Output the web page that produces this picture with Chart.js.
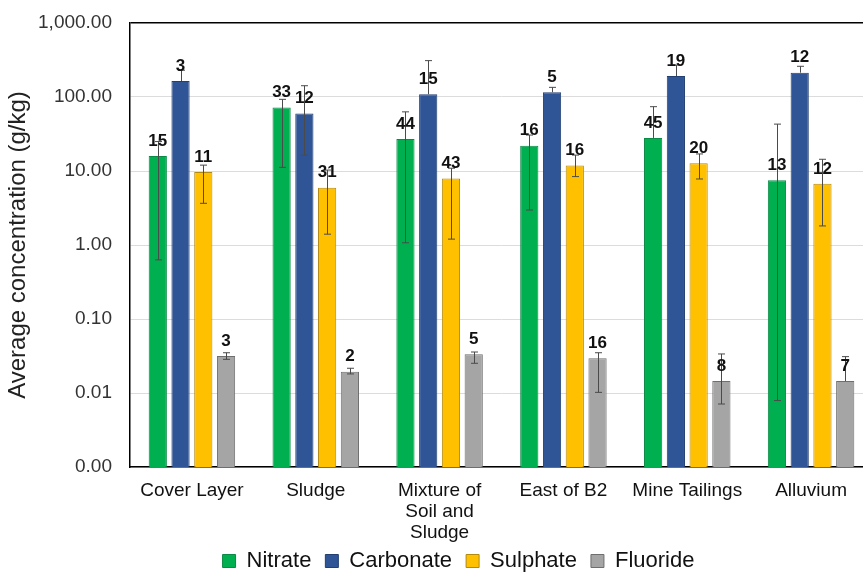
<!DOCTYPE html>
<html>
<head>
<meta charset="utf-8">
<script src="https://cdn.jsdelivr.net/npm/chart.js@4.4.1/dist/chart.umd.min.js"></script>
<style>
  html, body { margin: 0; padding: 0; background: #ffffff; overflow: hidden; }
  #wrap { width: 880px; height: 572px; }
</style>
</head>
<body>
<div id="wrap"><canvas id="chart" width="880" height="572"></canvas></div>
<script>
// Sampling areas
const categories = ['Cover Layer', 'Sludge', ['Mixture of', 'Soil and', 'Sludge'], 'East of B2', 'Mine Tailings', 'Alluvium'];

// Average concentrations (g/kg)
const nitrate   = [16, 72, 27, 22, 28, 7.5];
const carbonate = [164, 60, 109, 116, 192, 213];
const sulphate  = [9.7, 5.95, 7.9, 11.9, 12.7, 6.7];
const fluoride  = [0.0316, 0.0194, 0.0333, 0.0294, 0.0145, 0.0145];

// Error bar ends (low / high)
const nitrateLow    = [0.63, 11.2, 1.07, 2.97, 28, 0.0079];
const nitrateHigh   = [25, 93, 63, 30.6, 74, 43];
const carbonateLow  = [164, 16.4, 109, 116, 192, 213];
const carbonateHigh = [230, 142, 310, 135, 270, 260];
const sulphateLow   = [3.66, 1.40, 1.2, 8.4, 7.8, 1.81];
const sulphateHigh  = [12.0, 10.3, 10.9, 16.4, 17, 14.4];
const fluorideLow   = [0.0285, 0.0181, 0.0252, 0.0102, 0.0071, 0.0145];
const fluorideHigh  = [0.035, 0.0216, 0.0358, 0.035, 0.0337, 0.031];

// Number of samples shown above each bar
const nitrateN   = [15, 33, 44, 16, 45, 13];
const carbonateN = [3, 12, 15, 5, 19, 12];
const sulphateN  = [11, 31, 43, 16, 20, 12];
const fluorideN  = [3, 2, 5, 16, 8, 7];

// Y axis tick values (log scale)
const yTicks = [0.001, 0.01, 0.1, 1, 10, 100, 1000];

const FONT = "'Liberation Sans', Arial, sans-serif";
Chart.defaults.font.family = FONT;

const errorBars = {
  id: 'errorBars',
  afterDatasetsDraw(chart) {
    const ctx = chart.ctx;
    const y = chart.scales.y;
    ctx.save();
    ctx.strokeStyle = '#4a4a4a';
    ctx.lineWidth = 1;
    chart.data.datasets.forEach((ds, i) => {
      const meta = chart.getDatasetMeta(i);
      meta.data.forEach((bar, j) => {
        const x = Math.round(bar.x) + 0.5;
        const yh = y.getPixelForValue(ds.errHigh[j]);
        const yl = y.getPixelForValue(ds.errLow[j]);
        const yv = y.getPixelForValue(ds.data[j]);
        ctx.beginPath();
        ctx.moveTo(x, yh);
        ctx.lineTo(x, Math.max(yl, yv));
        ctx.moveTo(x - 3.5, yh);
        ctx.lineTo(x + 3.5, yh);
        if (ds.errLow[j] < ds.data[j]) {
          ctx.moveTo(x - 3.5, yl);
          ctx.lineTo(x + 3.5, yl);
        }
        ctx.stroke();
      });
    });
    ctx.restore();
  }
};

const countLabels = {
  id: 'countLabels',
  afterDatasetsDraw(chart) {
    const ctx = chart.ctx;
    ctx.save();
    ctx.font = 'bold 17px ' + FONT;
    ctx.fillStyle = '#111111';
    ctx.textAlign = 'center';
    ctx.textBaseline = 'middle';
    chart.data.datasets.forEach((ds, i) => {
      const meta = chart.getDatasetMeta(i);
      meta.data.forEach((bar, j) => {
        ctx.fillText(String(ds.counts[j]), bar.x, bar.y - 15);
      });
    });
    ctx.restore();
  }
};

// Legend centred under the plot; category labels may run into the legend band
const layoutTweaks = {
  id: 'layoutTweaks',
  afterLayout(chart) {
    const lg = chart.legend;
    lg.left += 22; lg.right += 22;
    lg.top += 10; lg.bottom += 10;
    chart.scales.x.bottom = chart.height;
  }
};

const fmt = v => Number(v).toLocaleString('en-US', { minimumFractionDigits: 2, maximumFractionDigits: 2 });

new Chart(document.getElementById('chart'), {
  type: 'bar',
  data: {
    labels: categories,
    datasets: [
      { label: 'Nitrate', data: nitrate, errLow: nitrateLow, errHigh: nitrateHigh, counts: nitrateN,
        backgroundColor: '#00b050', borderColor: '#0a8a45', borderWidth: 1 },
      { label: 'Carbonate', data: carbonate, errLow: carbonateLow, errHigh: carbonateHigh, counts: carbonateN,
        backgroundColor: '#2f5597', borderColor: '#223f70', borderWidth: 1 },
      { label: 'Sulphate', data: sulphate, errLow: sulphateLow, errHigh: sulphateHigh, counts: sulphateN,
        backgroundColor: '#ffc000', borderColor: '#b38a10', borderWidth: 1 },
      { label: 'Fluoride', data: fluoride, errLow: fluorideLow, errHigh: fluorideHigh, counts: fluorideN,
        backgroundColor: '#a5a5a5', borderColor: '#6e6e6e', borderWidth: 1 }
    ]
  },
  options: {
    responsive: false,
    animation: false,
    devicePixelRatio: 1,
    layout: { padding: { top: 23, right: 7, bottom: 0, left: 0 } },
    datasets: { bar: { categoryPercentage: 0.735, barPercentage: 0.8 } },
    plugins: {
      tooltip: { enabled: false },
      legend: {
        position: 'bottom',
        labels: {
          boxWidth: 13, boxHeight: 13, padding: 14,
          color: '#111111',
          font: { size: 22, family: FONT }
        }
      }
    },
    scales: {
      x: {
        grid: { display: false, drawTicks: false },
        border: { display: true, color: '#000000', width: 1.5 },
        ticks: {
          color: '#111111', padding: 13, maxRotation: 0, autoSkip: false,
          font: { size: 19, family: FONT, lineHeight: 1.12 }
        },
        afterFit(s) { s.height = 59; }
      },
      y: {
        type: 'logarithmic',
        min: 0.001,
        max: 1000,
        afterBuildTicks(s) { s.ticks = yTicks.map(v => ({ value: v })); },
        grid: {
          drawTicks: false,
          color: c => (c.tick && c.tick.value === 1000) ? '#000000' : '#dcdcdc',
          lineWidth: c => (c.tick && c.tick.value === 1000) ? 1.5 : 1
        },
        border: { display: true, color: '#000000', width: 1.5 },
        ticks: {
          color: '#333333', padding: 18,
          font: { size: 19, family: FONT },
          callback: v => fmt(v)
        },
        title: {
          display: true,
          text: 'Average concentration (g/kg)',
          color: '#222222',
          font: { size: 24, family: FONT },
          padding: { top: 4, bottom: 0 }
        },
        afterFit(s) {
          s.width = 130;
          s.paddingTop = 0;
          s.paddingBottom = 0;
        }
      }
    }
  },
  plugins: [errorBars, countLabels, layoutTweaks]
});
</script>
</body>
</html>
